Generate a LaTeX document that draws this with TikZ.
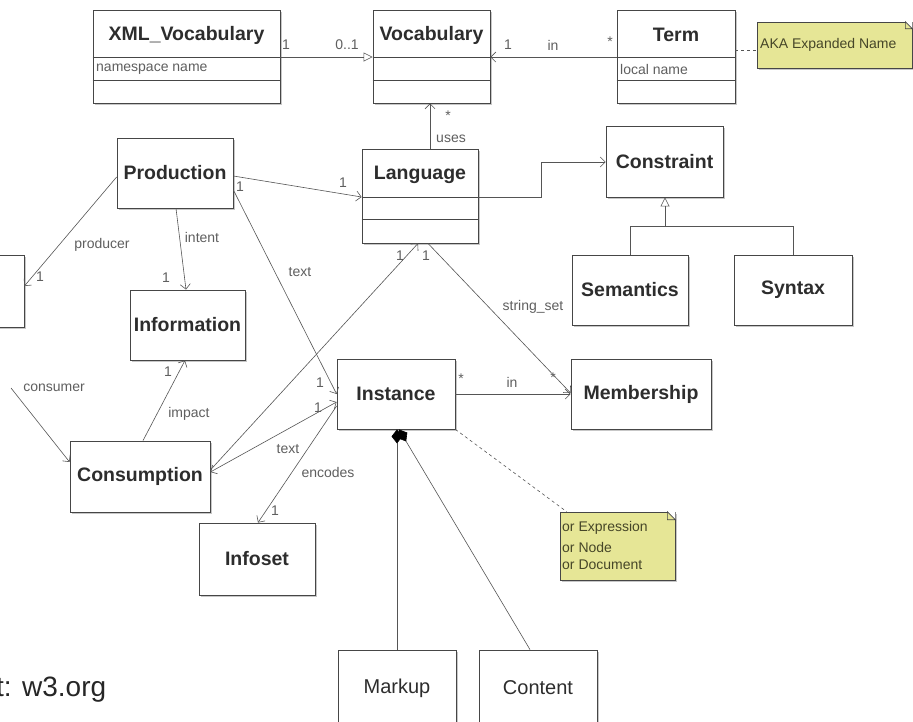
\documentclass[tikz,border=0pt]{standalone}
\usepackage{fontspec}
\setmainfont{Liberation Sans}
\usetikzlibrary{arrows.meta,shadows,calc}
\definecolor{boxline}{RGB}{70,70,70}
\definecolor{conline}{RGB}{85,85,85}
\definecolor{lbl}{RGB}{95,95,95}
\definecolor{notefill}{RGB}{230,230,150}
\definecolor{notetext}{RGB}{70,70,40}
\definecolor{titletext}{RGB}{45,45,45}
\begin{document}
\begin{tikzpicture}[x=1pt,y=-1pt,
  box/.style={draw=boxline, fill=white, line width=0.8pt, inner sep=0pt,
    general shadow={fill=black!22, shadow xshift=2pt, shadow yshift=-2pt}},
  notebox/.style={draw=boxline, fill=notefill, line width=0.6pt, inner sep=0pt,
    general shadow={fill=black!22, shadow xshift=2pt, shadow yshift=-2pt}},
  title/.style={font=\fontsize{19.5}{22}\selectfont\bfseries, text=titletext, inner sep=0pt},
  plaintitle/.style={font=\fontsize{20}{23}\selectfont, text=titletext, inner sep=0pt},
  attr/.style={font=\fontsize{14}{16}\selectfont, text=lbl, anchor=west, inner sep=0pt},
  lab/.style={font=\fontsize{14}{16}\selectfont, text=lbl, inner sep=0pt},
  notetxt/.style={font=\fontsize{14}{16}\selectfont, text=notetext, anchor=west, inner sep=0pt},
  con/.style={draw=conline, line width=0.6pt},
  opena/.style={-{Straight Barb[length=5pt,width=10pt]}},
  bothopen/.style={{Straight Barb[length=5pt,width=10pt]}-{Straight Barb[length=5pt,width=10pt]}},
  gen/.style={-{Triangle[open,length=9pt,width=9pt]}},
  comp/.style={-{Diamond[length=14pt,width=11pt,color=black,fill=black]}},
]
\useasboundingbox (0,0) rectangle (913,721);
\clip (0,0) rectangle (913,721);
\fill[white] (0,0) rectangle (913,721);

% ---------- class boxes ----------
\node[box, minimum width=187pt, minimum height=93pt] (xml) at (186.5,56.5) {};
\node[title] (xmlt) at (186.5,35) {XML\_Vocabulary};
\draw[boxline, line width=0.8pt] (xml.west |- 0,57) -- (xml.east |- 0,57);
\draw[boxline, line width=0.8pt] (xml.west |- 0,80) -- (xml.east |- 0,80);
\node[attr] (xmla) at (96,69) {namespace name};

\node[box, minimum width=117pt, minimum height=93pt] (voc) at (431.5,56.5) {};
\node[title] (voct) at (431.5,35) {Vocabulary};
\draw[boxline, line width=0.8pt] (voc.west |- 0,57) -- (voc.east |- 0,57);
\draw[boxline, line width=0.8pt] (voc.west |- 0,80) -- (voc.east |- 0,80);

\node[box, minimum width=118pt, minimum height=93pt] (term) at (676,56.5) {};
\node[title] (termt) at (676,35) {Term};
\draw[boxline, line width=0.8pt] (term.west |- 0,57) -- (term.east |- 0,57);
\draw[boxline, line width=0.8pt] (term.west |- 0,80) -- (term.east |- 0,80);
\node[attr] (terma) at (620,69) {local name};

\node[notebox, minimum width=155pt, minimum height=46pt] (aka) at (834.5,45) {};
\fill[white] ([xshift=-7pt]aka.north east) -- (aka.north east) -- ([yshift=-7pt]aka.north east) -- cycle;
\draw[boxline, line width=0.6pt] ([xshift=-7pt]aka.north east) -- ([xshift=-7pt,yshift=-7pt]aka.north east) -- ([yshift=-7pt]aka.north east) -- cycle;
\node[notetxt] (akat) at (760,45) {AKA Expanded Name};

\node[box, minimum width=116pt, minimum height=70pt] (prod) at (175,173) {};
\node[title] at (prod.center) {Production};

\node[box, minimum width=116pt, minimum height=94pt] (lang) at (420,196) {};
\node[title] (langt) at (420,175) {Language};
\draw[boxline, line width=0.8pt] (lang.west |- 0,197) -- (lang.east |- 0,197);
\draw[boxline, line width=0.8pt] (lang.west |- 0,219) -- (lang.east |- 0,219);

\node[box, minimum width=117pt, minimum height=71pt] (constr) at (664.5,161.5) {};
\node[title] at (constr.center) {Constraint};

\node[box, minimum width=116pt, minimum height=70pt] (sem) at (630,290) {};
\node[title] at (sem.center) {Semantics};
\node[box, minimum width=118pt, minimum height=70pt] (syn) at (793,290) {};
\node[title] at (syn.center) {Syntax};

\node[box, minimum width=115pt, minimum height=70pt] (info) at (187.5,325) {};
\node[title] at (info.center) {Information};

\node[box, minimum width=140pt, minimum height=71pt] (cons) at (140,476.5) {};
\node[title] at (cons.center) {Consumption};

\node[box, minimum width=116pt, minimum height=72pt] (infoset) at (257,559) {};
\node[title] at (infoset.center) {Infoset};

\node[box, minimum width=118pt, minimum height=70pt] (inst) at (396,394) {};
\node[title] at (inst.center) {Instance};

\node[box, minimum width=140pt, minimum height=70pt] (memb) at (641,394) {};
\node[title] at (memb.center) {Membership};

\node[notebox, minimum width=115pt, minimum height=68pt] (note) at (617.5,546) {};
\fill[white] ([xshift=-8pt]note.north east) -- (note.north east) -- ([yshift=-8pt]note.north east) -- cycle;
\draw[boxline, line width=0.6pt] ([xshift=-8pt]note.north east) -- ([xshift=-8pt,yshift=-8pt]note.north east) -- ([yshift=-8pt]note.north east) -- cycle;
\node[notetxt] at (562,528) {or Expression};
\node[notetxt] at (562,547) {or Node};
\node[notetxt] at (562,565) {or Document};

\node[box, minimum width=118pt, minimum height=90pt] (markup) at (397,695) {};
\node[plaintitle] at (397,688) {Markup};
\node[box, minimum width=118pt, minimum height=90pt] (content) at (538,695) {};
\node[plaintitle] at (538,688) {Content};

\node[box, minimum width=74pt, minimum height=72pt] (agent) at (-13,291) {};

\node[font=\fontsize{28}{32}\selectfont, text=black!85, anchor=west, inner sep=0pt] (src) at (-4,690) {t: w3.org};

% ---------- connectors ----------
\draw[con, gen] (xml.east |- 0,57) -- (voc.west |- 0,57);
\draw[con, opena] (term.west |- 0,57) -- (voc.east |- 0,57);
\draw[con, dashed] (term.east |- 0,50) -- (aka.west |- 0,50);

\draw[con, opena] (430,0 |- lang.north) -- (430,0 |- voc.south);
\draw[con, opena] (prod.east |- 0,176) -- (lang.west |- 0,197);
\draw[con, opena] (lang.east |- 0,197) -- (541,197) -- (541,162) -- (constr.west |- 0,162);

\coordinate (genj) at (665,226);
\draw[con, gen] (630,0 |- sem.north) -- (630,226) -- (genj) -- (665,0 |- constr.south);
\draw[con] (793,0 |- syn.north) -- (793,226) -- (genj);

\draw[con, opena] (prod.west |- 0,177) -- (agent.east |- 0,286);
\coordinate (consstart) at (11,388);
\draw[con, opena] (consstart) -- (cons.west |- 0,462);

\draw[con, opena] (176,0 |- prod.south) -- (186,0 |- info.north);
\draw[con, opena] (143,0 |- cons.north) -- (185,0 |- info.south);

\draw[con, opena] (prod.east |- 0,190) -- (inst.west |- 0,394);
\draw[con, opena] (cons.east |- 0,470) -- (418,0 |- lang.south);
\draw[con, bothopen] (cons.east |- 0,472) -- (inst.west |- 0,402);
\draw[con, opena] (inst.west |- 0,406) -- (258,0 |- infoset.north);

\draw[con, opena] (428,0 |- lang.south) -- (memb.west |- 0,393);
\draw[con, opena] (inst.east) -- (memb.west);

\draw[con, comp] (397,0 |- markup.north) -- (397,0 |- inst.south);
\draw[con, comp] (530,0 |- content.north) -- (399,0 |- inst.south);

\draw[con, dashed] (inst.south east) -- ($(note.north west)+(7,0)$);

% ---------- labels ----------
\node[lab] at (286,45) {1};
\node[lab] at (347,45) {0..1};
\node[lab] at (508,45) {1};
\node[lab] at (553,45) {in};
\node[lab] at (610,42) {*};
\node[lab] at (448,116) {*};
\node[lab] at (451,139) {uses};
\node[lab] at (343,183) {1};
\node[lab] at (240,187) {1};
\node[lab] at (102,245) {producer};
\node[lab] at (40,277) {1};
\node[lab] at (202,237) {intent};
\node[lab] at (166,278) {1};
\node[lab] at (300,272) {text};
\node[lab] at (400,256) {1};
\node[lab] at (426,256) {1};
\node[lab] at (533,307) {string\_set};
\node[lab] at (461,379) {*};
\node[lab] at (512,382) {in};
\node[lab] at (553,378) {*};
\node[lab] at (320,383) {1};
\node[lab] at (318,408) {1};
\node[lab] at (54,388) {consumer};
\node[lab] at (168,372) {1};
\node[lab] at (189,414) {impact};
\node[lab] at (288,449) {text};
\node[lab] at (328,472) {encodes};
\node[lab] at (275,511) {1};
\end{tikzpicture}
\end{document}
